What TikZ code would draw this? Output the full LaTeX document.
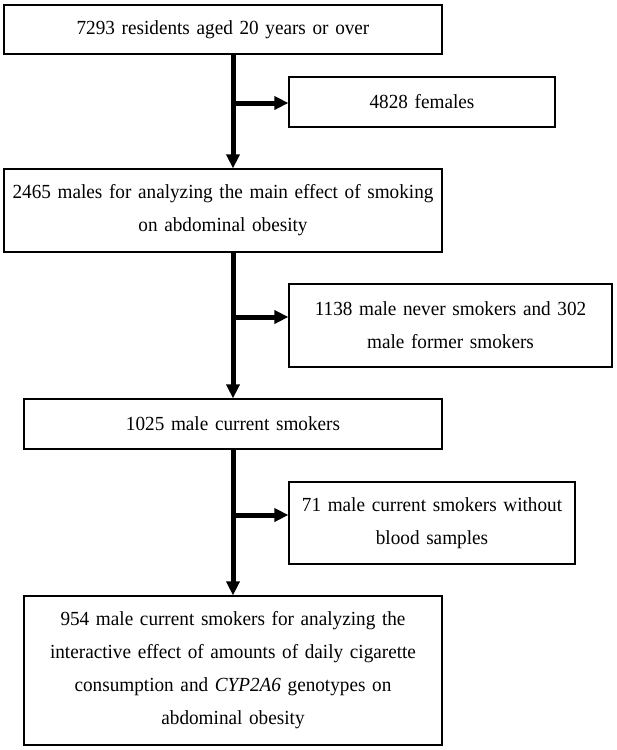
\documentclass[tikz,border=0pt]{standalone}
\usepackage{fontspec}
\setmainfont[FakeStretch=0.96]{Liberation Serif}
\usetikzlibrary{arrows.meta}

\begin{document}
\begin{tikzpicture} [x=1pt,y=-1pt,
			box/.style={draw,line width=1.2pt,align=center,inner sep=0pt,
				font=\fontsize{20}{33}\selectfont},
			flow/.style={line width=5pt,-{Triangle[length=14pt,width=13pt]}}
			]
		\useasboundingbox (0,0) rectangle (617,750);

		\node [box, minimum width=438pt, minimum height=49pt, text width=430pt] (total) at (223,29.5)
			{7293 residents aged 20 years or over};
		\node [box, minimum width=266pt, minimum height=50pt, text width=258pt] (females) at (422,102)
			{4828 females};
		\node [box, minimum width=438pt, minimum height=83pt, text width=434pt] (males) at (223,210.5)
			{2465 males for analyzing the main effect of smoking\\on abdominal obesity};
		\node [box, minimum width=323pt, minimum height=83pt, text width=315pt] (nonsmk) at (450.5,325.5)
			{1138 male never smokers and 302\\male former smokers};
		\node [box, minimum width=418pt, minimum height=50pt, text width=410pt] (current) at (233,424)
			{1025 male current smokers};
		\node [box, minimum width=286pt, minimum height=82pt, text width=280pt] (noblood) at (432,523)
			{71 male current smokers without\\blood samples};
		\node [box, minimum width=418pt, minimum height=149pt, text width=412pt] (final) at (233,670.5)
			{954 male current smokers for analyzing the\\interactive effect of amounts of daily cigarette\\consumption and \textit{CYP2A6} genotypes on\\abdominal obesity};

		\coordinate (j1) at (233,103);
		\coordinate (j2) at (233,317);
		\coordinate (j3) at (233,515);

		\draw [flow] (total.south -| current) -- (males.north -| current);
		\draw [flow] (males.south -| current) -- (current.north);
		\draw [flow] (current.south) -- (final.north);
		\draw [flow] (j1) -- (j1 -| females.west);
		\draw [flow] (j2) -- (j2 -| nonsmk.west);
		\draw [flow] (j3) -- (j3 -| noblood.west);

		\end{tikzpicture}
\end{document}
